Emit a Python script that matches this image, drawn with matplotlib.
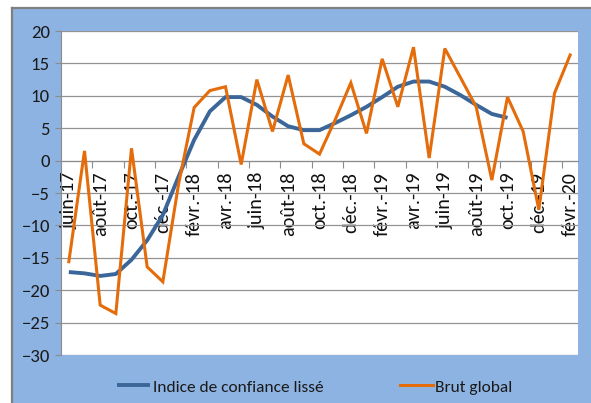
import matplotlib
matplotlib.use("Agg")
import matplotlib.pyplot as plt
from matplotlib.patches import Rectangle
from matplotlib.lines import Line2D

# monthly categories, juin-17 .. févr-20
months = ["juin-17", "juil.-17", "août-17", "sept.-17", "oct.-17", "nov.-17", "déc.-17",
          "janv.-18", "févr.-18", "mars-18", "avr.-18", "mai-18", "juin-18", "juil.-18",
          "août-18", "sept.-18", "oct.-18", "nov.-18", "déc.-18", "janv.-19", "févr.-19",
          "mars-19", "avr.-19", "mai-19", "juin-19", "juil.-19", "août-19", "sept.-19",
          "oct.-19", "nov.-19", "déc.-19", "janv.-20", "févr.-20"]

lisse = [-17.2, -17.4, -17.8, -17.5, -15.3, -12.3, -8.4, -2.5, 3.2, 7.6, 9.8, 9.8,
         8.6, 6.8, 5.3, 4.7, 4.7, 5.8, 7.0, 8.3, 9.8, 11.4, 12.2, 12.2, 11.4, 10.1,
         8.6, 7.2, 6.6]

brut = [-15.6, 1.5, -22.3, -23.6, 1.9, -16.4, -18.7, -3.7, 8.2, 10.8, 11.4, -0.6,
        12.5, 4.5, 13.2, 2.6, 1.0, 6.3, 12.0, 4.2, 15.7, 8.3, 17.5, 0.4, 17.3, 12.8,
        8.3, -3.0, 9.8, 4.5, -7.6, 10.4, 16.3]

yticks = [20, 15, 10, 5, 0, -5, -10, -15, -20, -25, -30]

plt.rcParams["font.family"] = ["Carlito", "DejaVu Sans"]

W, H = 591, 403
fig = plt.figure(figsize=(W / 100, H / 100), dpi=100)
fig.patch.set_facecolor("white")

# blue frame around the chart
bg_color = "#8DB3E2"
fig.patches.append(Rectangle((12 / W, 0), 1 - 12 / W, 1 - 8 / H, transform=fig.transFigure,
                             facecolor=bg_color, edgecolor="none", zorder=-10))
fig.lines.append(Line2D([12 / W, 1], [1 - 8 / H, 1 - 8 / H], transform=fig.transFigure,
                        color="#7F7F7F", lw=1.6))
fig.lines.append(Line2D([12 / W, 12 / W], [0, 1 - 8 / H], transform=fig.transFigure,
                        color="#7F7F7F", lw=1.6))

ax = fig.add_axes([61 / W, 1 - 355 / H, (578 - 61) / W, (355 - 31) / H])
ax.set_facecolor("white")

x = list(range(len(months)))
ax.plot(x[:len(lisse)], lisse, color="#3A6699", lw=2.8, solid_joinstyle="round",
        solid_capstyle="butt", label="Indice de confiance lissé", zorder=3)
ax.plot(x, brut, color="#E46C0A", lw=2.2, solid_joinstyle="miter",
        label="Brut global", zorder=4)

ax.set_xlim(-0.5, len(months) - 0.5)
ax.set_ylim(-30, 20)
ax.set_yticks(yticks)
ax.grid(axis="y", color="#939393", lw=0.9)
ax.set_axisbelow(True)

for s in ["top", "right"]:
    ax.spines[s].set_visible(False)
ax.spines["left"].set_color("#8C8C8C")
ax.spines["bottom"].set_position(("data", 0))
ax.spines["bottom"].set_color("#8C8C8C")

# tick marks between categories, labels on every second category
ax.set_xticks([i - 0.5 for i in range(2, len(months), 2)])
ax.set_xticklabels([])
ax.tick_params(axis="x", which="major", direction="out", length=5, color="#8C8C8C")
ax.set_xticks(x[::2], minor=True)
ax.set_xticklabels(months[::2], minor=True, rotation=90, fontsize=14.5, color="#111111")
ax.tick_params(axis="x", which="minor", length=0, pad=8)

ax.tick_params(axis="y", direction="out", length=4, color="#8C8C8C", labelsize=13.5,
               labelcolor="#1A1A1A", pad=4)

fig.legend(loc="center", bbox_to_anchor=(315 / W, 1 - 387 / H), ncol=2, frameon=False,
           fontsize=12.5, handlelength=1.9, handletextpad=0.15, columnspacing=4.4,
           labelcolor="#1A1A1A")

fig.savefig("out.png", dpi=100)
